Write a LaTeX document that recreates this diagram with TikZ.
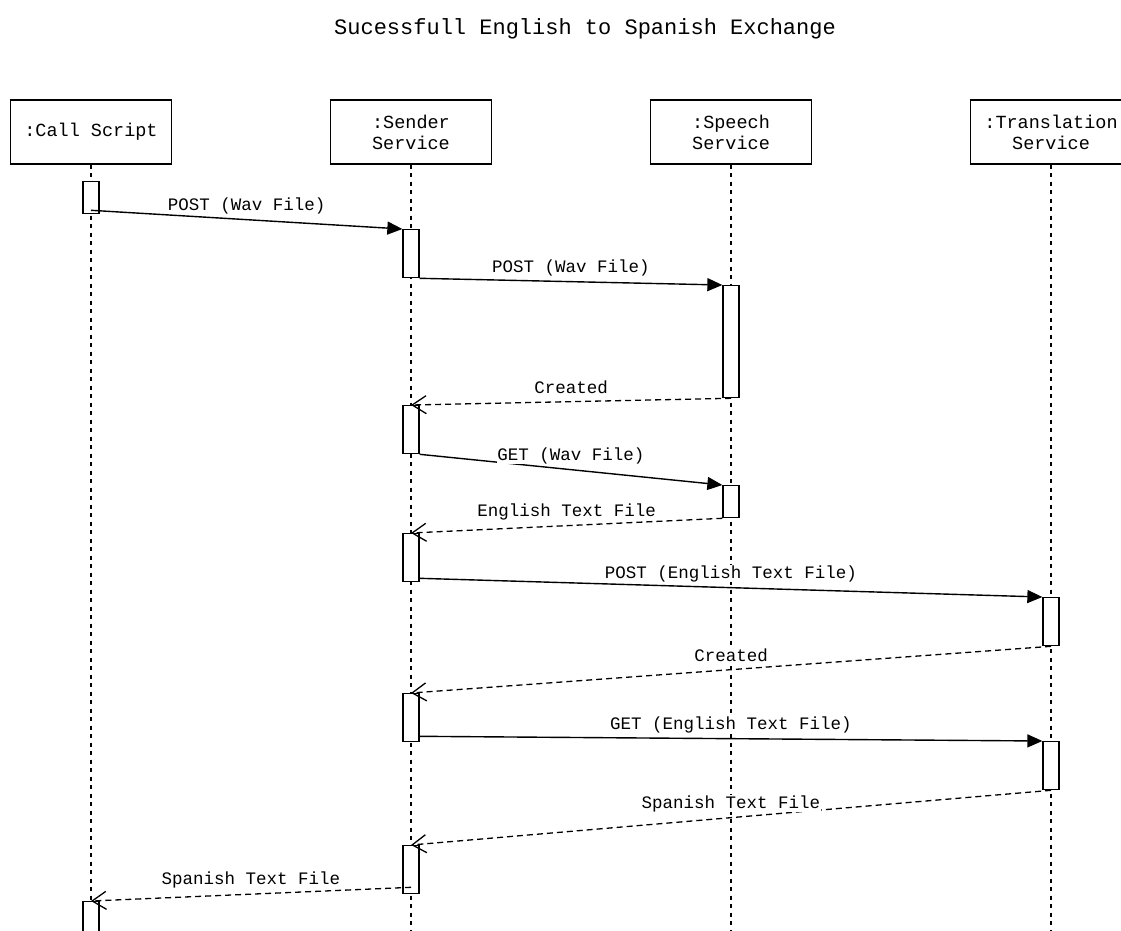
\documentclass[tikz,border=0pt]{standalone}
\usepackage{fontspec}
\setmonofont{Liberation Mono}
\usetikzlibrary{arrows.meta}

\begin{document}
\begin{tikzpicture}[x=1pt,y=-1pt,
		head/.style={draw, line width=1.3pt, minimum width=161pt, minimum height=64pt, inner sep=0pt, align=center, font=\ttfamily\fontsize{18.5pt}{21pt}\selectfont},
		act/.style={draw, fill=white, line width=1.3pt, minimum width=16pt, inner sep=0pt, anchor=north},
		life/.style={line width=1.2pt, dash pattern=on 4pt off 4.5pt},
		call/.style={line width=1.4pt, -{Triangle[length=15pt,width=13pt]}},
		reply/.style={line width=1.3pt, dash pattern=on 6pt off 4pt, -{Straight Barb[length=14pt,width=18pt]}},
		lbl/.style={midway, yshift=14pt, fill=white, inner sep=0.5pt, font=\ttfamily\fontsize{17.5pt}{20pt}\selectfont}]
		\useasboundingbox (0,0) rectangle (1121,930);
		\clip (0,0) rectangle (1121,930);
		
		\node [font=\ttfamily\fontsize{22pt}{26pt}\selectfont] (title) at (585,29) {Sucessfull English to Spanish Exchange};
		
		% lifeline heads
		\node [head] (callscript) at (91,132) {:Call Script};
		\node [head] (sender) at (411,132) {:Sender\\Service};
		\node [head] (speech) at (731,132) {:Speech\\Service};
		\node [head] (translation) at (1051,132) {:Translation\\Service};
		
		\coordinate (bottom) at (0,940);
		\foreach \n in {callscript,sender,speech,translation}
			\draw [life] (\n.south) -- (\n.south |- bottom);
		
		% activations
		\node [act, minimum height=32pt] (a1) at (91,181) {};
		\node [act, minimum height=48pt] (a2) at (411,229) {};
		\node [act, minimum height=112pt] (a3) at (731,285) {};
		\node [act, minimum height=48pt] (a4) at (411,405) {};
		\node [act, minimum height=32pt] (a5) at (731,485) {};
		\node [act, minimum height=48pt] (a6) at (411,533) {};
		\node [act, minimum height=48pt] (a7) at (1051,597) {};
		\node [act, minimum height=48pt] (a8) at (411,693) {};
		\node [act, minimum height=48pt] (a9) at (1051,741) {};
		\node [act, minimum height=48pt] (a10) at (411,845) {};
		\node [act, minimum height=48pt] (a11) at (91,901) {};
		
		% messages
		\draw [call] ([yshift=4pt]a1.south) -- (a2.north west) node [lbl] {POST (Wav File)};
		\draw [call] (a2.south east) -- (a3.north west) node [lbl] {POST (Wav File)};
		\draw [reply] (a3.south) -- (a4.north) node [lbl] {Created};
		\draw [call] (a4.south east) -- (a5.north west) node [lbl] {GET (Wav File)};
		\draw [reply] (a5.south west) -- (a6.north) node [lbl] {English Text File};
		\draw [call] ([yshift=4pt]a6.south east) -- (a7.north west) node [lbl] {POST (English Text File)};
		\draw [reply] (a7.south) -- (a8.north) node [lbl] {Created};
		\draw [call] ([yshift=6pt]a8.south east) -- (a9.north west) node [lbl] {GET (English Text File)};
		\draw [reply] (a9.south) -- (a10.north) node [lbl] {Spanish Text File};
		\draw [reply] ([yshift=7pt]a10.south) -- (a11.north) node [lbl] {Spanish Text File};
	\end{tikzpicture}
\end{document}
